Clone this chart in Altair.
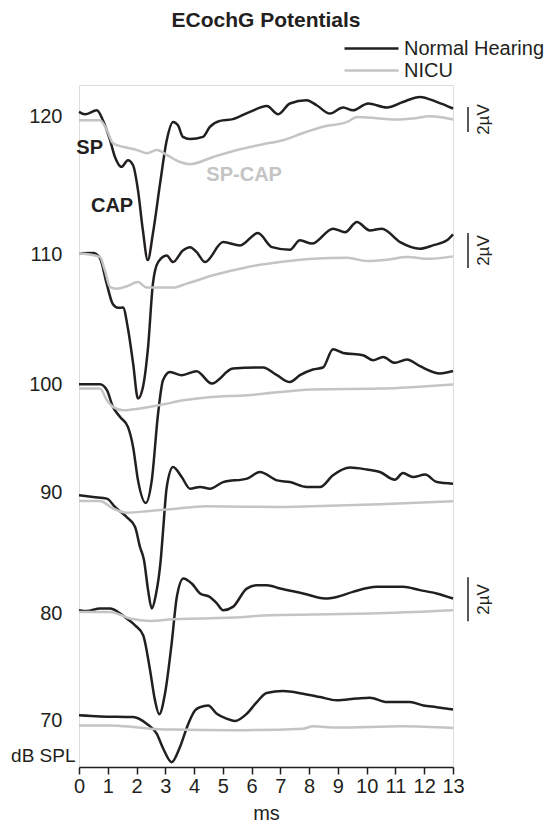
import altair as alt
import pandas as pd

# ---- levels (dB SPL) and baseline offsets of each pair of traces (display µV) ----
LEVELS = [120, 110, 100, 90, 80, 70]
BASE = [29.55, 23.30, 17.40, 12.50, 6.99, 2.12]

# ---- traces: (ms, amplitude in µV relative to the level baseline) ----
NH_120 = [(0, 0.23), (0.21, 0.12), (0.62, 0.30), (0.83, -0.15), (1.08, -1.06), (1.25, -1.82),
          (1.48, -2.27), (1.70, -1.97), (1.88, -2.20), (2.05, -3.33), (2.22, -5.15), (2.39, -6.51),
          (2.57, -5.29), (2.82, -3.01), (3.05, -1.06), (3.27, -0.23), (3.44, -0.38), (3.61, -0.91),
          (3.86, -1.01), (4.31, -0.91), (4.55, -0.45), (4.90, -0.18), (5.35, -0.10), (5.94, 0.23),
          (6.53, 0.49), (6.92, 0.12), (7.33, 0.61), (7.91, 0.76), (8.26, 0.53), (8.72, 0.15),
          (9.18, 0.43), (9.52, 0.30), (10.05, 0.61), (10.70, 0.43), (11.26, 0.68), (11.85, 0.91),
          (12.43, 0.68), (13.0, 0.38)]
NICU_120 = [(0, -0.15), (0.73, -0.15), (0.97, -0.60), (1.18, -1.20), (1.53, -1.36), (2.02, -1.51),
            (2.36, -1.65), (2.71, -1.51), (3.06, -1.74), (3.51, -2.05), (3.86, -2.15), (4.66, -1.82),
            (5.60, -1.47), (6.40, -1.24), (7.09, -1.06), (7.79, -0.73), (8.48, -0.45), (9.32, -0.23),
            (9.66, 0.0), (10.46, -0.07), (11.05, -0.12), (11.61, -0.07), (12.20, 0.03), (13.0, -0.12)]

NH_110 = [(0, 0.05), (0.49, 0.06), (0.73, -0.18), (0.96, -1.32), (1.18, -2.27), (1.36, -2.43),
          (1.53, -2.41), (1.70, -3.36), (1.88, -4.95), (2.05, -6.55), (2.22, -6.05), (2.40, -4.23),
          (2.57, -1.32), (2.75, -0.35), (3.05, -0.05), (3.27, -0.35), (3.61, 0.18), (3.86, 0.33),
          (4.09, 0.10), (4.38, -0.35), (5.01, 0.56), (5.60, 0.41), (6.22, 0.97), (6.71, 0.33),
          (7.33, 0.21), (7.68, 0.64), (8.10, 0.49), (8.83, 1.17), (9.25, 1.01), (9.66, 1.47),
          (10.11, 1.09), (10.53, 1.17), (11.16, 0.56), (11.85, 0.26), (12.30, 0.41), (12.79, 0.64),
          (13.0, 0.91)]
NICU_110 = [(0, 0.05), (0.73, -0.12), (0.90, -0.73), (1.08, -1.49), (1.31, -1.56), (1.66, -1.45),
            (2.05, -1.26), (2.35, -1.51), (2.82, -1.51), (3.27, -1.51), (3.74, -1.33), (4.66, -0.95),
            (5.84, -0.58), (6.99, -0.35), (8.13, -0.20), (9.32, -0.15), (10.01, -0.30), (10.71, -0.24),
            (11.40, -0.12), (12.20, -0.20), (13.0, -0.09)]

NH_100 = [(0, 0.0), (0.73, 0.0), (0.97, -0.27), (1.18, -1.03), (1.43, -1.49), (1.70, -1.94),
          (1.88, -2.85), (2.05, -4.36), (2.32, -5.40), (2.53, -4.36), (2.75, -1.32), (2.92, 0.18),
          (3.16, 0.56), (3.57, 0.41), (4.09, 0.59), (4.61, 0.03), (5.35, 0.71), (6.40, 0.76),
          (6.88, 0.41), (7.33, 0.10), (7.68, 0.41), (8.13, 0.67), (8.48, 0.76), (8.83, 1.59),
          (9.18, 1.42), (9.87, 1.32), (10.22, 1.09), (10.57, 1.24), (10.98, 0.97), (11.40, 1.12),
          (11.85, 0.82), (12.55, 0.49), (13.0, 0.60)]
NICU_100 = [(0, -0.20), (0.73, -0.20), (0.97, -0.73), (1.18, -1.03), (1.53, -1.18), (2.12, -1.10),
            (2.82, -0.95), (3.61, -0.73), (4.45, -0.60), (5.84, -0.50), (8.13, -0.24), (10.46, -0.20),
            (13.0, -0.01)]

NH_90 = [(0, -0.15), (0.49, -0.23), (0.97, -0.30), (1.25, -0.68), (1.66, -1.14), (1.95, -1.59),
         (2.12, -2.50), (2.26, -3.10), (2.40, -4.45), (2.53, -5.30), (2.66, -4.75), (2.84, -3.10),
         (2.92, -1.80), (3.05, 0.23), (3.27, 1.14), (3.57, 0.68), (3.86, 0.15), (4.21, 0.23),
         (4.55, 0.15), (5.01, 0.45), (5.84, 0.61), (6.29, 0.91), (6.88, 0.53), (7.33, 0.45),
         (7.92, 0.23), (8.38, 0.23), (8.83, 0.76), (9.42, 1.11), (10.01, 1.02), (10.46, 0.91),
         (10.98, 0.56), (11.26, 0.86), (11.61, 0.68), (12.03, 0.79), (12.44, 0.45), (13.0, 0.38)]
NICU_90 = [(0, -0.41), (0.73, -0.41), (1.18, -0.75), (1.66, -0.94), (2.47, -0.86), (3.05, -0.80),
           (3.75, -0.71), (4.45, -0.65), (6.99, -0.68), (8.13, -0.65), (10.46, -0.56), (13.0, -0.42)]

NH_80 = [(0, 0.14), (0.27, 0.10), (0.73, 0.21), (1.08, 0.21), (1.43, -0.01), (1.66, -0.24),
         (1.95, -0.55), (2.23, -1.00), (2.47, -2.59), (2.64, -3.95), (2.79, -4.59), (2.99, -3.65),
         (3.22, -1.38), (3.40, 0.74), (3.63, 1.58), (3.92, 1.35), (4.21, 0.90), (4.55, 0.74),
         (4.79, 0.45), (5.01, 0.14), (5.35, 0.29), (5.83, 1.12), (6.18, 1.27), (6.53, 1.27),
         (6.99, 1.12), (7.79, 0.90), (8.55, 0.67), (8.96, 0.74), (9.52, 0.97), (10.35, 1.20),
         (11.26, 1.20), (11.85, 1.05), (12.43, 0.90), (13.0, 0.67)]
NICU_80 = [(0, 0.06), (1.08, 0.06), (1.77, -0.24), (2.47, -0.35), (3.27, -0.27), (4.21, -0.24),
           (5.35, -0.20), (6.64, -0.09), (8.13, -0.06), (10.11, -0.01), (13.0, 0.14)]

NH_70 = [(0, 0.23), (0.73, 0.18), (1.88, 0.15), (2.35, -0.15), (2.70, -0.60), (2.93, -1.29),
         (3.22, -1.90), (3.51, -1.21), (3.80, -0.15), (4.03, 0.45), (4.21, 0.60), (4.49, 0.68),
         (4.79, 0.30), (5.13, 0.08), (5.42, -0.03), (5.83, 0.30), (6.18, 0.83), (6.52, 1.24),
         (7.09, 1.33), (7.79, 1.21), (8.38, 1.06), (8.96, 0.91), (9.65, 0.99), (10.11, 1.03),
         (10.70, 0.83), (11.50, 0.83), (11.97, 0.68), (12.43, 0.60), (13.0, 0.49)]
NICU_70 = [(0, -0.23), (1.08, -0.23), (1.88, -0.30), (2.47, -0.38), (3.27, -0.42), (5.35, -0.45),
           (7.79, -0.38), (8.13, -0.27), (8.96, -0.33), (11.26, -0.27), (13.0, -0.35)]

GROUPS = ["Normal Hearing", "NICU"]
COLORS = ["#231f20", "#c4c4c4"]
X_TICKS = list(range(0, 14))

# scale bars: (low, high) in display µV, label text
SCALE_BARS = [(28.86, 30.00), (22.68, 24.27), (6.62, 8.62)]
SCALE_TEXT = "2µV"

# annotations: (text, ms, display µV, colour index)
ANNOTATIONS = [("SP", 0.37, 28.12, 0), ("CAP", 1.15, 25.49, 0), ("SP-CAP", 5.74, 26.90, 1)]

FONT = "Liberation Sans"
INK = "#231f20"

traces = {
    (120, "Normal Hearing"): NH_120, (120, "NICU"): NICU_120,
    (110, "Normal Hearing"): NH_110, (110, "NICU"): NICU_110,
    (100, "Normal Hearing"): NH_100, (100, "NICU"): NICU_100,
    (90, "Normal Hearing"): NH_90, (90, "NICU"): NICU_90,
    (80, "Normal Hearing"): NH_80, (80, "NICU"): NICU_80,
    (70, "Normal Hearing"): NH_70, (70, "NICU"): NICU_70,
}
rows = []
for (lvl, grp), pts in traces.items():
    base = BASE[LEVELS.index(lvl)]
    for i, (ms, amp) in enumerate(pts):
        rows.append({"ms": ms, "uv": base + amp, "group": grp,
                     "trace": f"{lvl}-{grp}", "i": i})
df = pd.DataFrame(rows)

bars = pd.DataFrame([{"uv": lo, "hi": hi, "mid": (lo + hi) / 2, "label": SCALE_TEXT}
                     for lo, hi in SCALE_BARS])
ann = pd.DataFrame([{"text": t, "ms": x, "uv": y, "color": COLORS[c]} for t, x, y, c in ANNOTATIONS])

xscale = alt.Scale(domain=[0, 13], nice=False, zero=False)
yscale = alt.Scale(domain=[0, 31], nice=False, zero=False)

label_expr = ("[" + ",".join(f"'{l}'" for l in LEVELS) + "][indexof([" +
              ",".join(str(b) for b in BASE) + "], datum.value)]")

x_axis = alt.Axis(values=X_TICKS, tickCount=40, format="d", title="ms", grid=False,
                  domainColor=INK, domainWidth=1.5, tickColor=INK, tickWidth=1.5, tickSize=7,
                  labelFontSize=20, labelColor=INK, labelPadding=2,
                  labelOverlap=False, labelFlush=False,
                  titleFontSize=20, titleFontWeight="normal", titleColor=INK,
                  titlePadding=7, labelFont=FONT, titleFont=FONT)
y_axis = alt.Axis(values=BASE, tickCount=40, labelExpr=label_expr, grid=False, domain=False,
                  ticks=False, labelPadding=17, labelFontSize=20, labelColor=INK,
                  labelOverlap=False, labelFont=FONT, title="dB SPL", titleAngle=0,
                  titleAlign="right", titleBaseline="middle", titleX=-4, titleY=670,
                  titleFontSize=19, titleFontWeight="normal", titleColor=INK,
                  titleFont=FONT)

x_enc = alt.X("ms:Q", scale=xscale, axis=x_axis)
y_enc = alt.Y("uv:Q", scale=yscale, axis=y_axis)

color_enc = alt.Color("group:N",
                      scale=alt.Scale(domain=GROUPS, range=COLORS),
                      legend=alt.Legend(orient="none", legendX=281, legendY=-48, title=None,
                                        symbolType="M-2.7,0H2.7", symbolSize=400,
                                        symbolStrokeWidth=2.5, symbolFillColor="transparent",
                                        labelFontSize=20, labelOffset=21, rowPadding=-2,
                                        padding=0, labelColor=INK, labelFont=FONT,
                                        labelLimit=300))

base_chart = alt.Chart(df)
nh = base_chart.transform_filter(alt.datum.group == GROUPS[0]).mark_line(
    strokeWidth=2.5, interpolate="monotone").encode(
    x=x_enc, y=y_enc, color=color_enc, detail="trace:N", order="i:Q")
nicu = base_chart.transform_filter(alt.datum.group == GROUPS[1]).mark_line(
    strokeWidth=2.5, interpolate="monotone").encode(
    x=x_enc, y=y_enc, color=color_enc, detail="trace:N", order="i:Q")

bar_rules = alt.Chart(bars).mark_rule(color=INK, strokeWidth=1.5).encode(
    x=alt.value(389), y=y_enc, y2="hi:Q")
bar_text = alt.Chart(bars).mark_text(angle=270, fontSize=17, font=FONT, color=INK,
                                     align="center", baseline="middle").encode(
    x=alt.value(405), y=alt.Y("mid:Q", scale=yscale, axis=y_axis), text="label:N")

ann_text = alt.Chart(ann).mark_text(fontSize=20, fontWeight="bold", font=FONT,
                                    align="center", baseline="middle").encode(
    x=x_enc, y=y_enc, text="text:N", color=alt.Color("color:N", scale=None))

chart = alt.layer(nh, nicu, bar_rules, bar_text, ann_text).properties(
    width=374, height=682,
    title=alt.TitleParams("ECochG Potentials", fontSize=21, fontWeight="bold", font=FONT,
                          color=INK, anchor="middle", offset=6),
    autosize=alt.AutoSizeParams(type="none"),
    padding={"left": 71, "top": 77, "right": 94, "bottom": 58},
).configure_view(stroke=None).configure(font=FONT)

chart.save("out.html", embed_options={"renderer": "svg", "actions": False})
